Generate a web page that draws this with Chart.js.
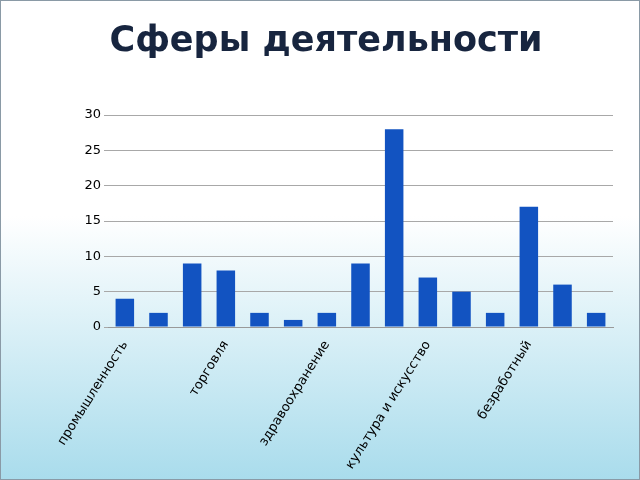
<!DOCTYPE html>
<html>
<head>
<meta charset="utf-8">
<script src="https://cdn.jsdelivr.net/npm/chart.js@4/dist/chart.umd.min.js"></script>
<style>
  html, body { margin: 0; padding: 0; }
  body {
    width: 638px; height: 478px; border: 1px solid #8a9aa6;
    background: linear-gradient(to bottom, #ffffff 0%, #ffffff 45%, #a9dcec 100%);
    position: relative;
  }
  #title {
    position: absolute; left: 0; top: 18px; width: 650px; text-align: center;
    font: bold 35px 'DejaVu Sans'; color: #17253f;
  }
  #wrap { width: 638px; height: 478px; }
</style>
</head>
<body>
<div id="title">Сферы деятельности</div>
<div id="wrap"><canvas id="chart"></canvas></div>
<script>
// категории (подписаны только каждая третья)
const categories = ['промышленность', '', '', 'торговля', '', '', 'здравоохранение', '', '',
  'культура и искусство', '', '', 'безработный', '', ''];
const values = [4, 2, 9, 8, 2, 1, 2, 9, 28, 7, 5, 2, 17, 6, 2];
const yTicks = [0, 5, 10, 15, 20, 25, 30];

const ctx = document.getElementById('chart').getContext('2d');
new Chart(ctx, {
  type: 'bar',
  data: {
    labels: categories,
    datasets: [{
      data: values,
      backgroundColor: '#1253c1',
      barPercentage: 0.55,
      categoryPercentage: 1.0
    }]
  },
  options: {
    responsive: true,
    maintainAspectRatio: false,
    animation: false,
    layout: { padding: { left: 0, right: 26, top: 114, bottom: 0 } },
    plugins: {
      legend: { display: false },
      tooltip: { enabled: false }
    },
    scales: {
      x: {
        grid: { display: false },
        border: { color: '#999' },
        afterFit: (axis) => { axis.height = 152; },
        ticks: {
          autoSkip: false,
          maxRotation: 58, minRotation: 58,
          color: '#000',
          font: { family: 'DejaVu Sans', size: 13 }
        }
      },
      y: {
        min: 0, max: 30,
        afterBuildTicks: (axis) => { axis.ticks = yTicks.map(v => ({ value: v })); },
        afterFit: (axis) => { axis.width = 107; },
        grid: { color: '#a8a8a8', drawTicks: true, tickLength: 4 },
        border: { display: false },
        ticks: {
          color: '#000',
          font: { family: 'DejaVu Sans', size: 13 }
        }
      }
    }
  }
});
</script>
</body>
</html>
